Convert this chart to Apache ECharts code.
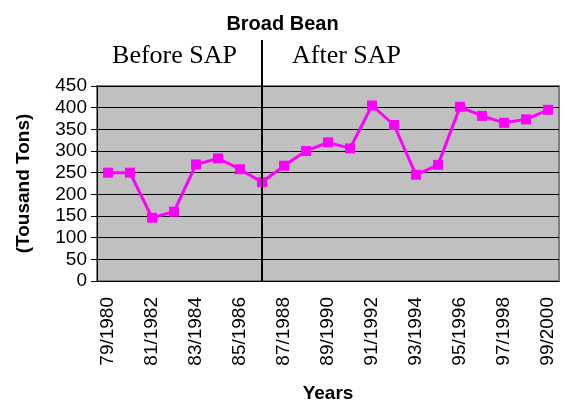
<!DOCTYPE html>
<html>
<head>
<meta charset="utf-8">
<script src="https://cdn.jsdelivr.net/npm/echarts@6/dist/echarts.min.js"></script>
<style>
  html, body { margin: 0; padding: 0; background: #fff; }
  #chart { width: 565px; height: 410px; }
</style>
</head>
<body>
<div id="chart"></div>
<script>
const years = [
  "79/1980", "80/1981", "81/1982", "82/1983", "83/1984", "84/1985", "85/1986",
  "86/1987", "87/1988", "88/1989", "89/1990", "90/1991", "91/1992", "92/1993",
  "93/1994", "94/1995", "95/1996", "96/1997", "97/1998", "98/1999", "99/2000"
];
const production = [
  250, 250, 146, 160, 269, 283, 258, 228, 266, 300, 320,
  306, 405, 360, 245, 268, 402, 381, 365, 373, 395
];
const sapYear = "86/1987";
const periodLabels = ["Before SAP", "After SAP"];

const chart = echarts.init(document.getElementById("chart"));
const sans = "Liberation Sans, Arial, sans-serif";

chart.setOption({
  animation: false,
  title: {
    text: "Broad Bean",
    left: "center",
    top: 9,
    textStyle: { fontFamily: sans, fontSize: 20, fontWeight: "bold", color: "#000" }
  },
  grid: { left: 97, right: 6, top: 86, bottom: 129, show: true, backgroundColor: "#c0c0c0", borderColor: "#808080", borderWidth: 2 },
  xAxis: {
    type: "category",
    data: years,
    boundaryGap: true,
    name: "Years",
    nameLocation: "middle",
    nameGap: 103,
    nameTextStyle: { fontFamily: sans, fontSize: 19, fontWeight: "bold", color: "#000" },
    axisLine: { lineStyle: { color: "#000", width: 1 } },
    axisTick: { show: false },
    axisLabel: { interval: 1, rotate: 90, margin: 16, fontFamily: sans, fontSize: 19, color: "#000" },
    splitLine: { show: false }
  },
  yAxis: {
    type: "value",
    min: 0,
    max: 450,
    interval: 50,
    name: "(Tousand Tons)",
    nameLocation: "middle",
    nameGap: 64,
    nameTextStyle: { fontFamily: sans, fontSize: 19, fontWeight: "bold", color: "#000" },
    axisLine: { show: true, lineStyle: { color: "#000", width: 1 } },
    axisTick: { show: true, inside: false, length: 6, lineStyle: { color: "#000" } },
    axisLabel: { margin: 10, fontFamily: sans, fontSize: 19, color: "#000" },
    splitLine: { show: true, lineStyle: { color: "#000", width: 1 } }
  },
  series: [{
    type: "line",
    data: production,
    symbol: "rect",
    symbolSize: 10,
    itemStyle: { color: "#ff00ff" },
    lineStyle: { color: "#ff00ff", width: 3 },
    markLine: {
      silent: true,
      symbol: "none",
      label: { show: false },
      lineStyle: { color: "#000", width: 2, type: "solid" },
      data: [{ xAxis: sapYear }]
    }
  }]
});

// extend the SAP divider above the plot and place the period labels
const divX = chart.convertToPixel({ xAxisIndex: 0 }, sapYear);
const topY = chart.convertToPixel({ yAxisIndex: 0 }, 450);
const serif = "Liberation Serif, Times New Roman, serif";
chart.setOption({
  graphic: [
    { type: "line", shape: { x1: divX, y1: 40, x2: divX, y2: topY }, style: { stroke: "#000", lineWidth: 2 } },
    { type: "text", x: divX - 25, y: 56, style: { text: periodLabels[0], font: "26px " + serif, fill: "#000", align: "right", verticalAlign: "middle" } },
    { type: "text", x: divX + 30, y: 56, style: { text: periodLabels[1], font: "26px " + serif, fill: "#000", align: "left", verticalAlign: "middle" } }
  ]
});
</script>
</body>
</html>
